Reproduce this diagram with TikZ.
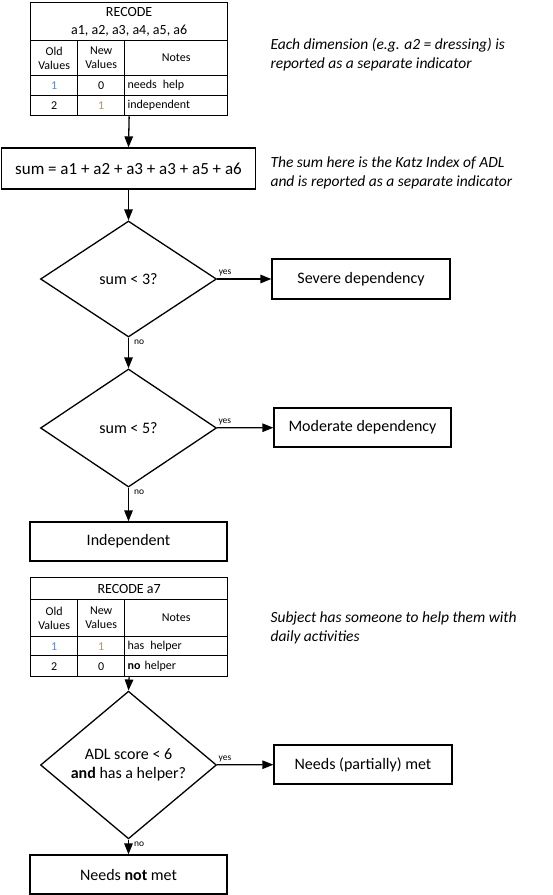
\documentclass[tikz,border=0pt]{standalone}
\usepackage{fontspec}
\setmainfont{Carlito}
\usepackage{xcolor}
\usetikzlibrary{shapes.geometric}
\usetikzlibrary{arrows.meta,positioning}
\definecolor{oldblue}{RGB}{95,135,200}
\definecolor{neworange}{RGB}{200,140,70}
\tikzset{
	box/.style={draw, line width=1.3pt, minimum width=197pt, minimum height=39pt, inner sep=2pt, font=\fontsize{16}{19}\selectfont},
	decision/.style={diamond, draw, line width=1.3pt, minimum width=176pt, minimum height=116pt, inner sep=0pt, align=center, font=\fontsize{16}{19}\selectfont},
	cell/.style={draw, line width=1.3pt, anchor=north west, inner sep=0pt, align=center, font=\fontsize{12}{14}\selectfont},
	notecell/.style={cell, text width=97pt, inner xsep=3pt, align=left},
	flow/.style={line width=1.3pt, -{Triangle[length=11pt,width=8.5pt]}},
	tag/.style={inner sep=1pt, font=\fontsize{9.5}{10}\selectfont},
	remark/.style={anchor=west, align=left, font=\fontsize{15.5}{19}\selectfont\itshape}
}

\begin{document}
\begin{tikzpicture}[x=1pt, y=-1pt]
	\useasboundingbox (0,0) rectangle (553,895);

	% first recode table
	\node[cell, minimum width=197pt, minimum height=38pt, font=\fontsize{14}{18}\selectfont] (h1) at (30,2) {RECODE\\a1, a2, a3, a4, a5, a6};
	\node[cell, minimum width=47pt, minimum height=35pt] (o1) at (30,40) {Old\\Values};
	\node[cell, minimum width=47pt, minimum height=35pt] (n1) at (77,40) {New\\Values};
	\node[cell, minimum width=103pt, minimum height=35pt] (t1) at (124,40) {Notes};
	\node[cell, minimum width=47pt, minimum height=20pt, text=oldblue] (o1a) at (30,75) {1};
	\node[cell, minimum width=47pt, minimum height=20pt] (n1a) at (77,75) {0};
	\node[notecell, minimum height=20pt] (t1a) at (124,75) {needs\enspace help};
	\node[cell, minimum width=47pt, minimum height=20pt] (o1b) at (30,95) {2};
	\node[cell, minimum width=47pt, minimum height=20pt, text=neworange] (n1b) at (77,95) {1};
	\node[notecell, minimum height=20pt] (t1b) at (124,95) {independent};

	\node[box, minimum width=254pt, minimum height=41pt, font=\fontsize{17}{19}\selectfont] (sum) at (128.5,168.5) {sum = a1 + a2 + a3 + a3 + a5 + a6};
	\node[decision] (d1) at (128.5,279) {sum < 3?};
	\node[box, minimum width=178pt, minimum height=40pt] (sev) at (361,279) {Severe dependency};
	\node[decision, minimum height=118pt] (d2) at (128.5,428) {sum < 5?};
	\node[box, minimum width=177pt] (mod) at (362.5,427.5) {Moderate dependency};
	\node[box] (ind) at (128.5,541.5) {Independent};

	% second recode table
	\node[cell, minimum width=197pt, minimum height=22pt, font=\fontsize{14}{18}\selectfont] (h2) at (30,577) {RECODE a7};
	\node[cell, minimum width=47pt, minimum height=37pt] (o2) at (30,599) {Old\\Values};
	\node[cell, minimum width=47pt, minimum height=37pt] (n2) at (77,599) {New\\Values};
	\node[cell, minimum width=103pt, minimum height=37pt] (t2) at (124,599) {Notes};
	\node[cell, minimum width=47pt, minimum height=19pt, text=oldblue] (o2a) at (30,636) {1};
	\node[cell, minimum width=47pt, minimum height=19pt, text=neworange] (n2a) at (77,636) {1};
	\node[notecell, minimum height=19pt] (t2a) at (124,636) {has\enspace helper};
	\node[cell, minimum width=47pt, minimum height=21pt] (o2b) at (30,655) {2};
	\node[cell, minimum width=47pt, minimum height=21pt] (n2b) at (77,655) {0};
	\node[notecell, minimum height=21pt] (t2b) at (124,655) {\textbf{no} helper};

	\node[decision] (d3) at (128.5,765) {ADL score < 6\\\textbf{and} has a helper?};
	\node[box, minimum width=178pt] (part) at (363,764.5) {Needs (partially) met};
	\node[box] (unmet) at (128.5,874.5) {Needs \textbf{not} met};

	% side remarks
	\node[remark] (r1) at (267,54.5) {Each dimension (e.g. a2 = dressing) is\\reported as a separate indicator};
	\node[remark] (r2) at (267,172.5) {The sum here is the Katz Index of ADL\\and is reported as a separate indicator};
	\node[remark] (r3) at (267,627.5) {Subject has someone to help them with\\daily activities};

	\draw[flow] (t1b.south -| h1.south) -- (sum.north);
	\draw[flow] (sum) -- (d1);
	\draw[flow] (d1) -- node[tag, pos=0, anchor=south west, yshift=1pt]{yes} (sev);
	\draw[flow] (d1) -- node[tag, pos=0, anchor=north west, xshift=4pt, yshift=-1pt]{no} (d2);
	\draw[flow] (d2) -- node[tag, pos=0, anchor=south west, yshift=1pt]{yes} (mod);
	\draw[flow] (d2) -- node[tag, pos=0, anchor=north west, xshift=4pt, yshift=-1pt]{no} (ind);
	\draw[flow] (t2b.south -| h2.south) -- (d3.north);
	\draw[flow] (d3) -- node[tag, pos=0, anchor=south west, yshift=1pt]{yes} (part);
	\draw[flow] (d3) -- node[tag, pos=0, anchor=north west, xshift=4pt, yshift=-1pt]{no} (unmet);
\end{tikzpicture}
\end{document}
